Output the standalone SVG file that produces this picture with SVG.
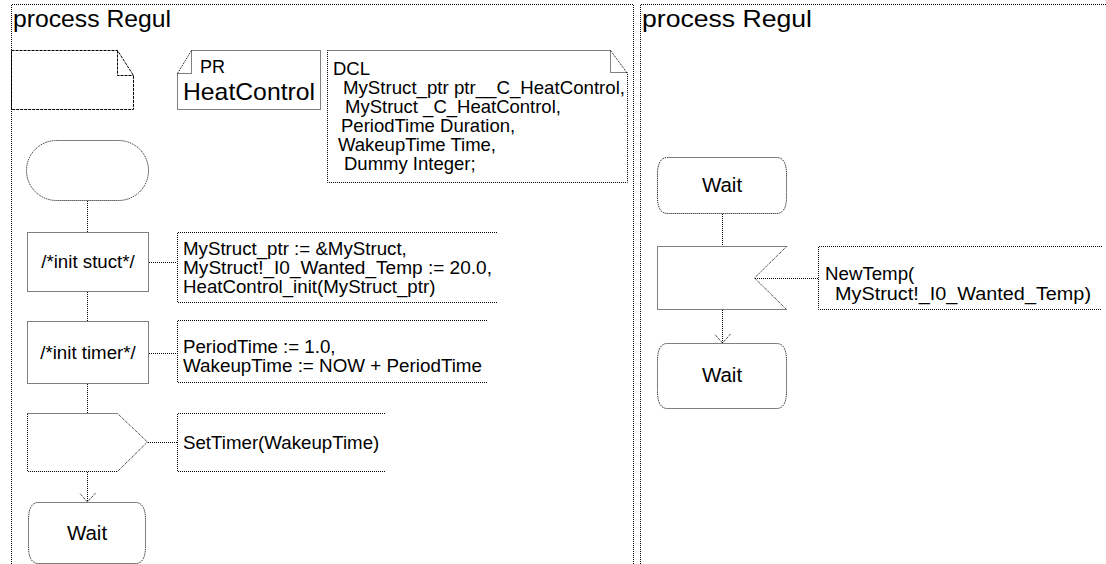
<svg xmlns="http://www.w3.org/2000/svg" width="1106" height="564" viewBox="0 0 1106 564">
<style>
.d{fill:none;stroke:#000;stroke-width:1;stroke-dasharray:1 1}
.n{fill:none;stroke:#000;stroke-width:1;stroke-dasharray:3 1}
text{font-family:"Liberation Sans",Arial,sans-serif;font-size:18.7px;fill:#000}
.t{font-size:24px}
.big{font-size:24px}
.w{font-size:20.5px;text-anchor:middle}
</style>
<defs>
<marker id="ah" markerWidth="20" markerHeight="20" refX="10" refY="10" orient="auto" markerUnits="userSpaceOnUse">
<path d="M1,2 L10,10 L1,18" fill="none" stroke="#000" stroke-width="1" stroke-dasharray="1 1"/>
</marker>
</defs>
<rect width="1106" height="564" fill="#fff"/>
<g id="frame-left">
<path class="d" d="M11.5,564 V4.5 H633.5 V564"/>
<text class="t" x="13" y="27" textLength="158" lengthAdjust="spacingAndGlyphs">process Regul</text>
</g>
<g id="frame-right">
<path class="d" d="M640.5,564 V4.5 H1106"/>
<text class="t" x="642" y="27" textLength="170" lengthAdjust="spacingAndGlyphs">process Regul</text>
</g>
<g id="textsym-left">
<path class="n" d="M11.5,50.5 H117.5 L133.5,75.5 V109.5 H11.5 Z M117.5,50.5 V75.5 H133.5"/>
</g>
<g id="pr">
<path class="d" d="M191.5,50.5 H320.5 V109.5 H177.5 V73.5 Z M191.5,50.5 V73.5 H177.5"/>
<text x="200" y="73" style="font-size:18px">PR</text>
<text class="big" x="183" y="100" textLength="132" lengthAdjust="spacingAndGlyphs">HeatControl</text>
</g>
<g id="dcl">
<path class="d" d="M327.5,50.5 H610.5 L627.5,73.5 V182.5 H327.5 Z M610.5,50.5 V72.5 H627.5"/>
<text x="333" y="75" style="font-size:18.5px">DCL</text>
<text x="343" y="94" style="font-size:18.5px" textLength="282" lengthAdjust="spacingAndGlyphs">MyStruct_ptr ptr__C_HeatControl,</text>
<text x="345" y="113" style="font-size:18.5px">MyStruct _C_HeatControl,</text>
<text x="341" y="132" style="font-size:18.5px">PeriodTime Duration,</text>
<text x="338" y="151" style="font-size:18.5px">WakeupTime Time,</text>
<text x="344" y="170" style="font-size:18.5px">Dummy Integer;</text>
</g>
<g id="start">
<rect class="d" x="26.5" y="140.5" width="122" height="60" rx="30" ry="30"/>
</g>
<g id="task-init-stuct">
<rect class="d" x="27.5" y="232.5" width="121" height="59"/>
<text x="88" y="268" text-anchor="middle">/*init stuct*/</text>
</g>
<g id="comment-stuct">
<path class="d" d="M497,232.5 H177.5 V302.5 H497"/>
<text x="183" y="255">MyStruct_ptr := &amp;MyStruct,</text>
<text x="183" y="274" textLength="309" lengthAdjust="spacingAndGlyphs">MyStruct!_I0_Wanted_Temp := 20.0,</text>
<text x="183" y="293">HeatControl_init(MyStruct_ptr)</text>
</g>
<g id="task-init-timer">
<rect class="d" x="27.5" y="321.5" width="121" height="62"/>
<text x="88" y="359" text-anchor="middle">/*init timer*/</text>
</g>
<g id="comment-timer">
<path class="d" d="M487,320.5 H177.5 V382.5 H487"/>
<text x="183" y="353">PeriodTime := 1.0,</text>
<text x="183" y="372" textLength="299" lengthAdjust="spacingAndGlyphs">WakeupTime := NOW + PeriodTime</text>
</g>
<g id="output-settimer">
<path class="d" d="M27.5,413.5 H117.5 L147.5,442 L117.5,471.5 H27.5 Z"/>
</g>
<g id="comment-settimer">
<path class="d" d="M385,413.5 H177.5 V471.5 H385"/>
<text x="183" y="449">SetTimer(WakeupTime)</text>
</g>
<g id="wait-left">
<path class="d" d="M38.5,502.5 H135.5 C142,502.5 145.5,508 145.5,520 V546 C145.5,558 142,563.5 135.5,563.5 H38.5 C32,563.5 28.5,558 28.5,546 V520 C28.5,508 32,502.5 38.5,502.5 Z"/>
<text class="w" x="87" y="540">Wait</text>
</g>
<g id="wait-right-1">
<path class="d" d="M667.5,157.5 H776.5 C783,157.5 786.5,163 786.5,174 V197 C786.5,208 783,213.5 776.5,213.5 H667.5 C661,213.5 657.5,208 657.5,197 V174 C657.5,163 661,157.5 667.5,157.5 Z"/>
<text class="w" x="722" y="192">Wait</text>
</g>
<g id="input-newtemp">
<path class="d" d="M786.5,246.5 H657.5 V309.5 H786.5 L754.5,278 Z"/>
</g>
<g id="comment-newtemp">
<path class="d" d="M1102,246.5 H818.5 V309.5 H1102"/>
<text x="825" y="280">NewTemp(</text>
<text x="835" y="300" textLength="256" lengthAdjust="spacingAndGlyphs">MyStruct!_I0_Wanted_Temp)</text>
</g>
<g id="wait-right-2">
<path class="d" d="M667.5,343.5 H776.5 C783,343.5 786.5,349 786.5,361 V391 C786.5,403 783,408.5 776.5,408.5 H667.5 C661,408.5 657.5,403 657.5,391 V361 C657.5,349 661,343.5 667.5,343.5 Z"/>
<text class="w" x="722" y="382">Wait</text>
</g>
<g id="connectors">
<path class="d" d="M87.5,201 V232"/>
<path class="d" d="M87.5,292 V321"/>
<path class="d" d="M87.5,384 V413"/>
<path class="d" d="M87.5,472 V502" marker-end="url(#ah)"/>
<path class="d" d="M149,262.5 H177"/>
<path class="d" d="M149,353.5 H177"/>
<path class="d" d="M148,442.5 H177"/>
<path class="d" d="M722.5,214 V246"/>
<path class="d" d="M755,278.5 H818"/>
<path class="d" d="M722.5,310 V343" marker-end="url(#ah)"/>
</g>
</svg>
